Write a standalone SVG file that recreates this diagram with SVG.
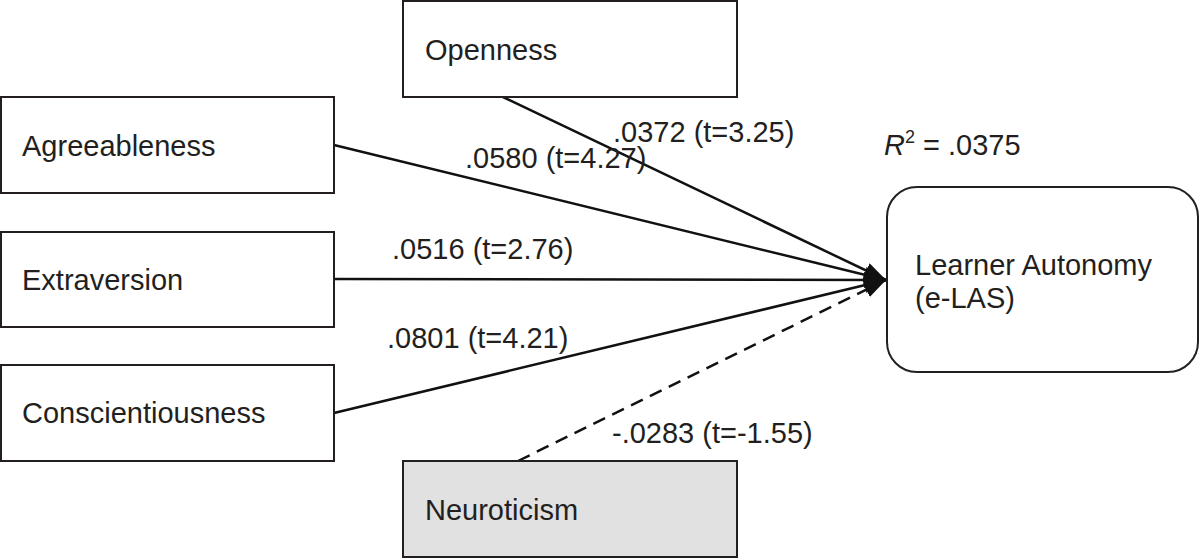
<svg xmlns="http://www.w3.org/2000/svg" width="1200" height="559" viewBox="0 0 1200 559">
<defs>
<style>
.box{fill:#fff;stroke:#231f20;stroke-width:2}
.gray{fill:#e1e1e1}
.lbl{font-family:"Liberation Sans",Arial,sans-serif;font-size:29px;fill:#231f20}
.edge{stroke:#111;stroke-width:2.5;fill:none}
.dash{stroke-dasharray:13 8}
</style>
<marker id="arr" viewBox="0 0 22 16" refX="22" refY="8" markerWidth="22" markerHeight="16" markerUnits="userSpaceOnUse" orient="auto">
<path d="M0,0 L22,8 L0,16 z" fill="#111"/>
</marker>
</defs>
<rect width="1200" height="559" fill="#fff"/>
<g id="connectors">
<line class="edge" x1="503" y1="97" x2="886" y2="280" marker-end="url(#arr)"/>
<line class="edge" x1="334" y1="145" x2="886" y2="280" marker-end="url(#arr)"/>
<line class="edge" x1="334" y1="279" x2="886" y2="280" marker-end="url(#arr)"/>
<line class="edge" x1="334" y1="413" x2="886" y2="280" marker-end="url(#arr)"/>
<line class="edge dash" x1="518" y1="461" x2="886" y2="280" marker-end="url(#arr)"/>
<text class="lbl" x="613" y="142">.0372 (t=3.25)</text>
<text class="lbl" x="465" y="168">.0580 (t=4.27)</text>
<text class="lbl" x="392" y="259">.0516 (t=2.76)</text>
<text class="lbl" x="387" y="348">.0801 (t=4.21)</text>
<text class="lbl" x="612" y="443">-.0283 (t=-1.55)</text>
</g>
<g id="openness">
<rect class="box" x="403" y="1" width="334" height="96"/>
<text class="lbl" x="425" y="60">Openness</text>
</g>
<g id="agreeableness">
<rect class="box" x="1" y="97" width="333" height="96"/>
<text class="lbl" x="22" y="156">Agreeableness</text>
</g>
<g id="extraversion">
<rect class="box" x="1" y="232" width="333" height="95"/>
<text class="lbl" x="22" y="290">Extraversion</text>
</g>
<g id="conscientiousness">
<rect class="box" x="1" y="365" width="333" height="96"/>
<text class="lbl" x="22" y="423">Conscientiousness</text>
</g>
<g id="neuroticism">
<rect class="box gray" x="403" y="461" width="334" height="96"/>
<text class="lbl" x="425" y="520">Neuroticism</text>
</g>
<g id="learner-autonomy">
<rect class="box" x="887" y="187" width="311" height="185" rx="30" ry="30"/>
<text class="lbl" x="915" y="275">Learner Autonomy</text>
<text class="lbl" x="915" y="308">(e-LAS)</text>
</g>
<g id="r-squared">
<text class="lbl" x="884" y="155"><tspan font-style="italic">R</tspan><tspan font-size="18" dy="-12">2</tspan><tspan dy="12"> = .0375</tspan></text>
</g>
</svg>
